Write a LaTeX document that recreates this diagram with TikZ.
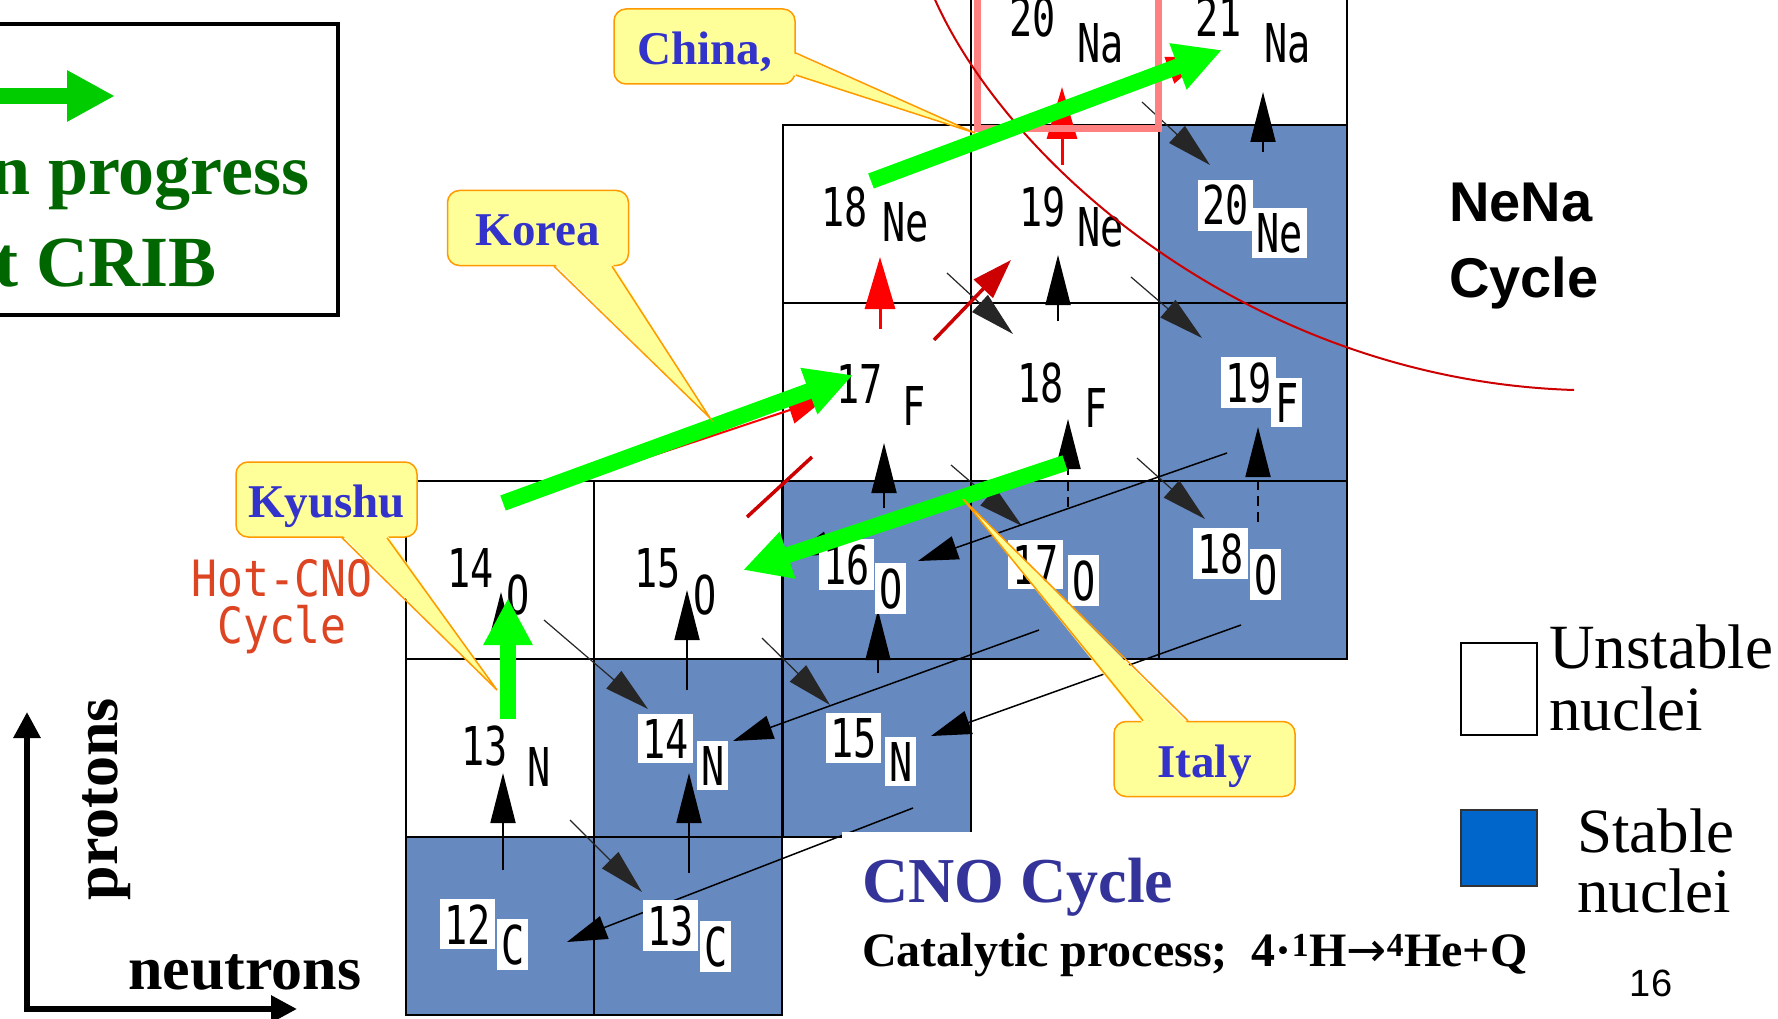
\documentclass[tikz,border=0pt]{standalone}
\usepackage{fontspec}
\setmainfont{Liberation Serif}
\newfontfamily\nucfont[FakeStretch=0.72]{DejaVu Sans Mono}
\newfontfamily\hotfont[FakeStretch=0.86]{DejaVu Sans Mono}
\newfontfamily\arialfont{Liberation Sans}
\newfontfamily\arrowfont{DejaVu Sans}
\usetikzlibrary{arrows.meta}

\definecolor{stablefill}{RGB}{102,137,192}
\definecolor{legendblue}{RGB}{0,102,204}
\definecolor{cribgreen}{RGB}{0,102,0}
\definecolor{exptgreen}{RGB}{0,255,0}
\definecolor{legendarrow}{RGB}{0,204,0}
\definecolor{calloutfill}{RGB}{255,255,153}
\definecolor{calloutline}{RGB}{255,153,0}
\definecolor{callouttext}{RGB}{51,51,204}
\definecolor{cnoblue}{RGB}{51,51,153}
\definecolor{hotred}{RGB}{221,68,34}
\definecolor{curvered}{RGB}{204,0,0}
\definecolor{pinkbox}{RGB}{255,128,128}

\tikzset{
  cell/.style={draw=black, line width=1.6pt, minimum width=188.2pt, minimum height=178pt, inner sep=0pt},
  nuclab/.style={anchor=base west, inner xsep=4pt, inner ysep=5pt, xshift=-7pt, font=\nucfont\fontsize{53.5}{56}\selectfont},
  pgarrow/.style={black, line width=1.8pt, -{Triangle[length=50pt,width=25pt]}},
  betaarrow/.style={black!85, line width=1.2pt, -{Triangle[length=45pt,width=23pt]}},
  paarrow/.style={black, line width=1.5pt, -{Triangle[length=40pt,width=24pt]}},
  redpg/.style={red, line width=3pt, -{Triangle[length=52pt,width=30pt]}},
  redalpha/.style={red, line width=2pt, -{Triangle[length=38pt,width=28pt]}},
  reddiag/.style={curvered, line width=3.5pt},
  expt/.style={exptgreen, line width=16pt, -{Triangle[length=47pt,width=46pt]}},
  bubble/.style={draw=calloutline, fill=calloutfill, line width=1.5pt, rounded corners=12pt,
    minimum width=181pt, minimum height=75pt, inner sep=0pt, text height=36pt, text depth=0pt,
    text=callouttext, font=\fontsize{47}{50}\selectfont\bfseries},
  wedgeline/.style={calloutline, line width=1.5pt},
  cribtext/.style={anchor=base west, inner sep=0pt, text=cribgreen, font=\fontsize{72}{76}\selectfont\bfseries},
  hottext/.style={anchor=base, inner sep=0pt, text=hotred, font=\hotfont\fontsize{50}{54}\selectfont},
  legtext/.style={anchor=base west, inner sep=0pt, font=\fontsize{63}{66}\selectfont},
  axislab/.style={inner sep=0pt, font=\fontsize{62}{66}\selectfont\bfseries},
  axisarrow/.style={line width=6pt, line join=miter, {Triangle[length=26pt,width=26pt]}-{Triangle[length=26pt,width=26pt]}}
}

\begin{document}
\begin{tikzpicture}[x=1pt, y=-1pt]
  % Page
  \useasboundingbox (0,0) rectangle (1778,1019);
  \fill[white] (0,0) rectangle (1778,1019);
  \clip (0,0) rectangle (1778,1019);

  % Legend of the experiments at CRIB
  \draw[line width=4pt] (-10,24) rectangle (338,315);
  \coordinate (legtail) at (-5,96);
  \coordinate (leghead) at (115,96);
  \draw[legendarrow, line width=16pt, -{Triangle[length=48pt,width=48pt]}] (legtail) -- (leghead);
  \node (prog) [cribtext] at (-10,195) {n progress};
  \node (crib) [cribtext] at (-6,286) {t CRIB};

  % Cells: stable nuclei
  \foreach \nm/\cx/\cy in {c12/500/926, c13/688/926, n14/688/748, n15/877/748, o16/877/570,
      o17/1065/570, o18/1253/570, f19/1253/392, ne20/1253/214}
    \node (\nm) [cell, fill=stablefill] at (\cx,\cy) {};
  % Cells: unstable nuclei
  \foreach \nm/\cx/\cy in {n13/500/748, o14/500/570, o15/688/570, f17/877/392, f18/1065/392,
      ne18/877/214, ne19/1065/214, na20/1065/36, na21/1253/36}
    \node (\nm) [cell, fill=white] at (\cx,\cy) {};

  % (p,gamma)
  \foreach \a/\ax/\ay/\b/\bx/\by in {c12/3/-56/n13/3/25, c13/1/-53/n14/1/25, n13/1/-55/o14/1/22,
      n14/-1/-58/o15/-1/20, n15/1/-75/o16/1/40, o16/7/-62/f17/7/51, f18/-7/-71/ne19/-7/41,
      ne20/10/-62/na21/10/56}
    \draw[pgarrow] ([shift={(\ax,\ay)}]\a.center) -- ([shift={(\bx,\by)}]\b.center);
  \foreach \a/\ax/\ay/\b/\bx/\by in {o17/3/-63/f18/3/27, o18/5/-48/f19/5/35}
    \draw[pgarrow, dash pattern=on 10pt off 6pt] ([shift={(\ax,\ay)}]\a.center) -- ([shift={(\bx,\by)}]\b.center);
  % beta+ decays
  \foreach \a/\ax/\ay/\b/\bx/\by in {n13/70/72/c13/-46/-34, o14/44/50/n14/-40/-39,
      o15/74/68/n15/-47/-43, f17/74/73/o17/-43/-44, f18/72/66/o18/-48/-51,
      ne18/70/59/f18/-52/-58, ne19/66/63/f19/-51/-54, na20/77/66/ne20/-43/-49}
    \draw[betaarrow] ([shift={(\ax,\ay)}]\a.center) -- ([shift={(\bx,\by)}]\b.center);
  % (p,alpha)
  \foreach \a/\ax/\ay/\b/\bx/\by in {n15/36/60/c12/67/16, o17/-26/60/n14/45/-7,
      o18/-12/55/n15/54/-12, f19/-26/61/o16/41/-9, f18/-7/74/o15/102/-14}
    \draw[paarrow] ([shift={(\ax,\ay)}]\a.center) -- ([shift={(\bx,\by)}]\b.center);
  % breakout (red)
  \foreach \a/\ax/\ay/\b/\bx/\by in {f17/3/-63/ne18/3/43, ne19/-3/-49/na20/-3/51}
    \draw[redpg] ([shift={(\ax,\ay)}]\a.center) -- ([shift={(\bx,\by)}]\b.center);
  \draw[redalpha] ([shift={(13,-68)}]o14.center) -- ([shift={(-51,6)}]f17.center);
  \draw[redalpha] ([shift={(3,-36)}]ne18.center) -- ([shift={(-48,21)}]na21.center);
  \draw[reddiag] ([shift={(59,-53)}]o15.center) -- ([shift={(-65,65)}]f17.center);
  \draw[reddiag, -{Triangle[length=40pt,width=26pt]}] ([shift={(57,-52)}]f17.center) -- ([shift={(-54,46)}]ne19.center);

  % Labels (mass number, element)
  \foreach \nm/\A/\ax/\ay/\El/\ex/\ey in {c12/12/447/944/C/504/964, c13/13/650/945/C/707/966,
      n14/14/645/758/N/704/785, n15/15/833/757/N/892/781, o16/16/826/584/O/882/608,
      o17/17/1015/584/O/1075/600, o18/18/1200/573/O/1257/594, f19/19/1228/402/F/1278/422,
      ne20/20/1205/225/Ne/1259/252}
    {\node (\nm-a) [nuclab, fill=white] at (\ax,\ay) {\A};
     \node (\nm-e) [nuclab, fill=white] at (\ex,\ey) {\El};}
  \foreach \nm/\A/\ax/\ay/\El/\ex/\ey in {n13/13/464/765/N/530/786, o14/14/450/587/O/509/614,
      o15/15/637/587/O/696/614, f17/17/839/403/F/905/425, f18/18/1020/402/F/1087/427,
      ne18/18/824/227/Ne/885/242, ne19/19/1022/227/Ne/1080/247,
      na20/20/1012/37/Na/1080/63, na21/21/1198/37/Na/1267/63}
    {\node (\nm-a) [nuclab] at (\ax,\ay) {\A};
     \node (\nm-e) [nuclab] at (\ex,\ey) {\El};}

  % 20Na frame and NeNa boundary
  \draw[pinkbox, line width=7pt] (977,-20) rectangle (1158,129);
  \draw[curvered, line width=2pt] (930,-12) .. controls (1000,160) and (1250,380) .. (1574,390);

  \node (hot1) [hottext] at (282,596) {Hot-CNO};
  \node (hot2) [hottext] at (282,643) {Cycle};

  % Experiments (green)
  \foreach \a/\ax/\ay/\b/\bx/\by in {n13/8/-29/o14/8/28, o14/3/-67/f17/-24/-17,
      ne18/-6/-33/na21/-31/14, f18/0/71/o15/55/0}
    \draw[expt] ([shift={(\ax,\ay)}]\a.center) -- ([shift={(\bx,\by)}]\b.center);

  % Callouts
  \node (kyushu) [bubble] at (326.5,499.5) {Kyushu};
  \coordinate (kyushutip) at (497,690);
  \fill[calloutfill] ([shift={(15.5,-3)}]kyushu.south) -- (kyushutip) -- ([shift={(60.5,-3)}]kyushu.south) -- cycle;
  \draw[wedgeline] ([shift={(15.5,0)}]kyushu.south) -- (kyushutip) -- ([shift={(60.5,0)}]kyushu.south);

  \node (korea) [bubble] at (538,228) {Korea};
  \coordinate (koreatip) at (710,418);
  \fill[calloutfill] ([shift={(16,-3)}]korea.south) -- (koreatip) -- ([shift={(74,-3)}]korea.south) -- cycle;
  \draw[wedgeline] ([shift={(16,0)}]korea.south) -- (koreatip) -- ([shift={(74,0)}]korea.south);

  \node (china) [bubble] at (704.5,46.5) {China,};
  \coordinate (chinatip) at (975,133);
  \fill[calloutfill] ([shift={(-3,6.5)}]china.east) -- (chinatip) -- ([shift={(-3,28.5)}]china.east) -- cycle;
  \draw[wedgeline] ([shift={(0,6.5)}]china.east) -- (chinatip) -- ([shift={(0,28.5)}]china.east);

  \node (italy) [bubble] at (1204.5,759) {Italy};
  \coordinate (italytip) at (963,499);
  \fill[calloutfill] ([shift={(-61.5,3)}]italy.north) -- (italytip) -- ([shift={(-16.5,3)}]italy.north) -- cycle;
  \draw[wedgeline] ([shift={(-61.5,0)}]italy.north) -- (italytip) -- ([shift={(-16.5,0)}]italy.north);

  % Titles
  \node (nena1) [anchor=base west, inner sep=0pt, font=\arialfont\bfseries\fontsize{56}{60}\selectfont] at (1449,222) {NeNa};
  \node (nena2) [anchor=base west, inner sep=0pt, font=\arialfont\bfseries\fontsize{56}{60}\selectfont] at (1449,297) {Cycle};
  \node (cnotitle) [anchor=north west, fill=white, inner xsep=20pt, inner ysep=26pt, text=cnoblue,
    font=\fontsize{64}{66}\selectfont\bfseries] at (842,832) {CNO Cycle};
  \node (catal) [anchor=base west, inner sep=0pt, font=\fontsize{48}{52}\selectfont\bfseries] at (862,966)
    {Catalytic process;\ \ 4·\textsuperscript{1}H{\arrowfont\mdseries →}\textsuperscript{4}He+Q};

  % Legend of the cells
  \node (unstbox) [draw, line width=2pt, fill=white, minimum width=76pt, minimum height=92pt, inner sep=0pt] at (1499,689) {};
  \node (stbox) [draw=black!80, line width=2pt, fill=legendblue, minimum width=76pt, minimum height=76pt, inner sep=0pt] at (1499,848) {};
  \node (unst1) [legtext] at (1549,668) {Unstable};
  \node (unst2) [legtext] at (1549,730) {nuclei};
  \node (st1) [legtext] at (1577,852) {Stable};
  \node (st2) [legtext] at (1577,912) {nuclei};

  % Axes
  \coordinate (origin) at (27,1009);
  \coordinate (ptop) at (27,712);
  \coordinate (nright) at (297,1009);
  \draw[axisarrow] (ptop) -- (origin) -- (nright);
  \node (protons) [axislab, rotate=90, anchor=base] at (117,799) {protons};
  \node (neutrons) [axislab, anchor=base west] at (128,989) {neutrons};

  \node (pagenum) [anchor=base, inner sep=0pt, font=\arialfont\fontsize{38}{40}\selectfont] at (1651,996) {16};
\end{tikzpicture}
\end{document}
